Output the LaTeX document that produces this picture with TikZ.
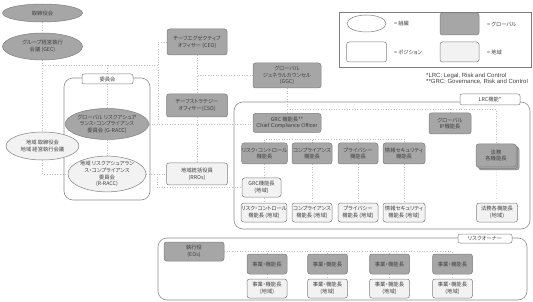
\documentclass[tikz,border=0pt]{standalone}
\usepackage{fontspec}
\setmainfont{Noto Sans CJK JP}[RawFeature=+palt]
\newfontfamily\latinfont{Liberation Sans}
\usepackage{tikz}
\usetikzlibrary{shapes.geometric,shadows,backgrounds}
\definecolor{globfill}{HTML}{A6A6A6}
\definecolor{regfill}{HTML}{F2F2F2}
\definecolor{edgegray}{HTML}{7F7F7F}
\definecolor{txtgray}{HTML}{3F3F3F}
\definecolor{linkgray}{HTML}{BFBFBF}

\begin{document}
\begin{tikzpicture}[x=1pt,y=-1pt,
  every node/.style={font=\fontsize{5.3}{6.6}\selectfont, text=txtgray, align=center, inner sep=0pt},
  wh/.style 2 args={minimum width=#1, minimum height=#2},
  link/.style={dotted, linkgray, line width=0.6pt},
  frame/.style={draw=edgegray!90, line width=0.6pt, rounded corners=9pt},
  tab/.style={draw=edgegray, fill=white, rounded corners=2pt, line width=0.5pt},
  box/.style={draw=edgegray, rounded corners=2.5pt, line width=0.5pt},
  glob/.style={box, fill=globfill},
  reg/.style={box, fill=regfill},
  posbox/.style={box, fill=white},
  org/.style={ellipse, draw=edgegray, line width=0.5pt},
  note/.style={anchor=west, align=left, font=\latinfont\fontsize{6}{6}\selectfont},
]
\useasboundingbox (0,0) rectangle (533,302);

% --- Frames ---
\draw[frame] (64,78) rectangle (150,200);
\draw[frame] (234,102) rectangle (530,229);
\draw[frame] (158,238) rectangle (527,300);
\draw[edgegray, line width=0.6pt] (339,12) rectangle (531,67);

\node[tab, wh={51}{10}] (committab) at (107.5,79) {委員会};
\node[tab, wh={60}{11}] (lrctab) at (490,99.5) {LRC機能*};
\node[tab, wh={54}{9}] (ownertab) at (485,238.5) {リスクオーナー};

% --- Legend ---
\node[org, fill=white, wh={39}{17}] (keyorg) at (366.5,23.5) {};
\node[anchor=west] (lblorg) at (394,23.5) {= 組織};
\node[glob, wh={39}{22}] (keyglob) at (459.5,24) {};
\node[anchor=west] (lblglob) at (487,24) {= グローバル};
\node[posbox, wh={40}{20}] (keypos) at (366.5,52) {};
\node[anchor=west] (lblpos) at (394,52) {= ポジション};
\node[reg, wh={39}{20}] (keyreg) at (459.5,52) {};
\node[anchor=west] (lblreg) at (487,52) {= 地域};
\node[note] (noteA) at (426,76) {*LRC: Legal, Risk and Control};
\node[note] (noteB) at (426,82) {**GRC: Governance, Risk and Control};

% --- Boards and committees ---
\node[org, fill=globfill, wh={80}{18}] (board) at (42.5,13) {取締役会};
\node[org, fill=globfill, wh={80}{27}] (gec) at (42.5,46.5) {グループ経営執行\\会議 (GEC)};
\node[org, fill=globfill, wh={78}{31}] (gracc) at (107,124) {グローバル リスクアシュア\\ランス・コンプライアンス\\委員会 (G-RACC)};
\node[org, fill=regfill, wh={73}{28}] (regboard) at (42.5,146) {地域 取締役会\\地域 経営執行会議};
\node[org, fill=regfill, wh={78}{32}] (racc) at (107,174) {地域 リスクアシュアラン\\ス・コンプライアンス\\委員会\\(R-RACC)};

% --- Officers ---
\node[glob, wh={60}{26}] (ceo) at (197,42) {チーフエグゼクティブ\\オフィサー (CEO)};
\node[glob, wh={61}{23}] (cso) at (197,105.5) {チーフストラテジー\\オフィサー(CSO)};
\node[reg, wh={61}{22}] (rro) at (197,174) {地域統括役員\\(RROs)};
\node[glob, wh={68}{25}] (ggc) at (287,75.5) {グローバル\\ジェネラルカウンセル\\(GGC)};

% --- LRC functions ---
\node[glob, wh={68}{19}] (grc) at (287,123) {GRC 機能長**\\{\latinfont\fontsize{5.5}{6.6}\selectfont Chief Compliance Officer}};
\node[glob, wh={42}{21}] (ip) at (450,123.5) {グローバル\\IP機能長};
\node[glob, wh={45}{21}] (rc) at (264.5,153.5) {リスク・コントロール\\機能長};
\node[glob, wh={40}{21}] (comp) at (312,153.5) {コンプライアンス\\機能長};
\node[glob, wh={40}{21}] (priv) at (358,153.5) {プライバシー\\機能長};
\node[glob, wh={42}{21}] (infosec) at (404,153.5) {情報セキュリティ\\機能長};
\node[glob, wh={40}{23}, double copy shadow={shadow xshift=1.5pt, shadow yshift=-1.5pt}] (legal) at (496,155.5) {法務\\各機能長};
\node[reg, wh={39}{19}] (grcreg) at (261.5,187.5) {GRC機能長\\(地域)};
\node[reg, wh={44}{19}] (rcreg) at (264,212.5) {リスク・コントロール\\機能長 (地域)};
\node[reg, wh={40}{19}] (compreg) at (312,212.5) {コンプライアンス\\機能長 (地域)};
\node[reg, wh={40}{19}] (privreg) at (358,212.5) {プライバシー\\機能長 (地域)};
\node[reg, wh={42}{19}] (infosecreg) at (404,212.5) {情報セキュリティ\\機能長 (地域)};
\node[reg, wh={41}{19}] (legalreg) at (497,212.5) {法務各機能長\\(地域)};

% --- Risk owners ---
\node[glob, wh={60}{19}] (eo) at (194,251.5) {執行役\\(EOs)};
\node[glob, wh={40}{20}] (bizA) at (267,264) {事業・機能長};
\node[glob, wh={40}{20}] (bizB) at (327.5,264) {事業・機能長};
\node[glob, wh={40}{20}] (bizC) at (389.5,264) {事業・機能長};
\node[glob, wh={40}{20}] (bizD) at (452.5,264) {事業・機能長};
\node[reg, wh={40}{19}] (bizAreg) at (267,288.5) {事業・機能長\\(地域)};
\node[reg, wh={40}{19}] (bizBreg) at (327.5,288.5) {事業・機能長\\(地域)};
\node[reg, wh={40}{19}] (bizCreg) at (389.5,288.5) {事業・機能長\\(地域)};
\node[reg, wh={40}{19}] (bizDreg) at (452.5,288.5) {事業・機能長\\(地域)};

% --- Dotted reporting lines ---
\coordinate (gecbus) at (42.5,65);
\coordinate (ceojoin) at (158,124);
\coordinate (raccknee) at (157,174);
\coordinate (ggcbus) at (287,109);
\coordinate (grcbus) at (287,139);
\begin{scope}[on background layer]
  \draw[link] (board) -- (gec);
  \draw[link] (gec) -- (regboard);
  \draw[link] (regboard.south) |- (racc.west);
  \draw[link] (gecbus) -| (gracc.north);
  \draw[link] (gecbus) -- (gecbus -| ceojoin);
  \draw[link] (ceo.west) -| (ceojoin);
  \draw[link] (gracc) -- (racc);
  \draw[link] (gracc.east) -- (gracc.east -| grc.west);
  \draw[link] (ceo) -- (cso);
  \draw[link] (cso) -- (rro);
  \draw[link] (ggc.west) -- (ggc.west -| ceo.south);
  \draw[link] (racc.east) -- (rro.west);
  \draw[link] (raccknee) |- (grcreg.west);
  \draw[link] (ggc) -- (grc);
  \draw[link] (ggcbus) -| (legal.north);
  \draw[link] (ggcbus -| ip.north) -- (ip.north);
  \draw[link] (rc.north) |- (grcbus) -| (infosec.north);
  \draw[link] (comp.north) -- (comp.north |- grcbus);
  \draw[link] (priv.north) -- (priv.north |- grcbus);
  \draw[link] (rc.south) -- (rc.south |- rcreg.north);
  \draw[link] (comp) -- (compreg);
  \draw[link] (priv) -- (privreg);
  \draw[link] (infosec) -- (infosecreg);
  \draw[link] (legal) -- (legalreg);
  \draw[link] (eo.east) -| (bizD.north);
  \draw[link] (bizA.north) -- (bizA.north |- eo.east);
  \draw[link] (bizB.north) -- (bizB.north |- eo.east);
  \draw[link] (bizC.north) -- (bizC.north |- eo.east);
  \draw[link] (bizA) -- (bizAreg);
  \draw[link] (bizB) -- (bizBreg);
  \draw[link] (bizC) -- (bizCreg);
  \draw[link] (bizD) -- (bizDreg);
\end{scope}
\end{tikzpicture}
\end{document}
